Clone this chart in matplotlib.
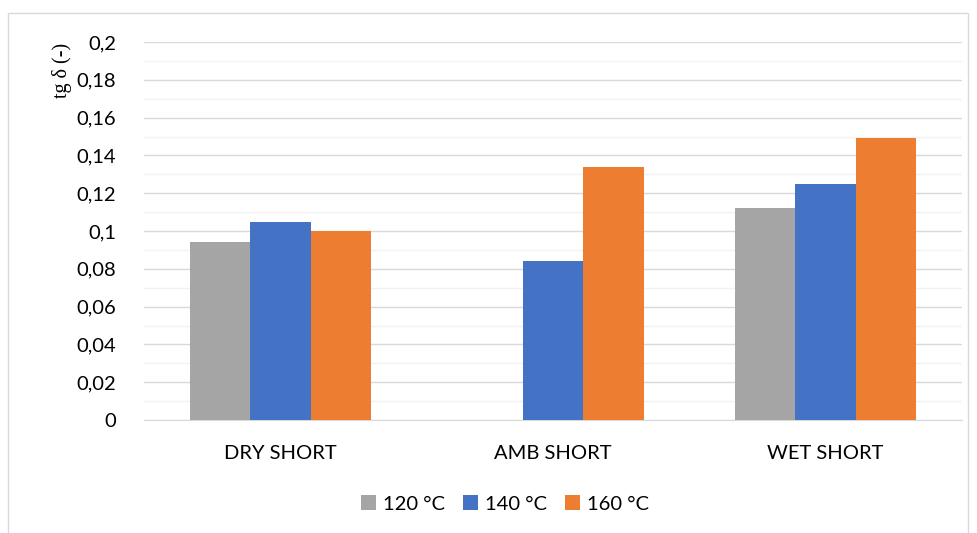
import numpy as np
import matplotlib
matplotlib.use('Agg')
import matplotlib.pyplot as plt
import matplotlib.patches as patches
from matplotlib.ticker import MultipleLocator, FuncFormatter

categories = ['DRY SHORT', 'AMB SHORT', 'WET SHORT']
series_names = ['120 °C', '140 °C', '160 °C']
v120 = [0.094, 0.0, 0.112]
v140 = [0.105, 0.084, 0.125]
v160 = [0.100, 0.134, 0.149]
colors = ['#a5a5a5', '#4472c4', '#ed7d31']

fig = plt.figure(figsize=(9.77, 5.33), dpi=100)
ax = fig.add_axes([144 / 977, 1 - 420 / 533, (962 - 144) / 977, (420 - 42) / 533])

# outer chart frame
fig.add_artist(patches.Rectangle((8 / 977, -0.05), 960 / 977, 1.05 - 13 / 533,
                                 transform=fig.transFigure, fill=False,
                                 edgecolor='#d9d9d9', linewidth=1))

x = np.arange(len(categories))
w = 0.222
for i, (vals, name) in enumerate(zip([v120, v140, v160], series_names)):
    ax.bar(x + (i - 1) * w, vals, width=w, color=colors[i], label=name, zorder=3)

ax.set_xlim(-0.5, 2.5)
ax.set_ylim(0, 0.2)
ax.yaxis.set_major_locator(MultipleLocator(0.02))
ax.yaxis.set_minor_locator(MultipleLocator(0.01))
ax.yaxis.set_major_formatter(FuncFormatter(lambda v, p: ('%g' % round(v, 2)).replace('.', ',')))
ax.grid(axis='y', which='major', color='#d9d9d9', linewidth=1, zorder=0)
ax.grid(axis='y', which='minor', color='#f2f2f2', linewidth=1, zorder=0)
ax.set_axisbelow(True)
for s in ['top', 'right', 'left']:
    ax.spines[s].set_visible(False)
ax.spines['bottom'].set_color('#d9d9d9')
ax.tick_params(axis='both', which='both', length=0, labelsize=14.5, labelcolor='#000000')
ax.tick_params(axis='y', pad=20)
ax.tick_params(axis='x', pad=18)
ax.set_xticks(x)
ax.set_xticklabels(categories, family='Lato')
for lbl in ax.get_yticklabels():
    lbl.set_family('Lato')

fig.text(62 / 977, 1 - 70 / 533, 'tg δ (-)', rotation=90, ha='center', va='center',
         family='Liberation Serif', fontsize=14.5)

leg = fig.legend(loc='center', bbox_to_anchor=(505 / 977, 1 - 504 / 533), ncol=3,
                 frameon=False, prop={'family': 'Lato', 'size': 14.5},
                 handlelength=0.75, handleheight=0.75, handletextpad=0.35, columnspacing=0.9)

fig.savefig('out.png', dpi=100)
